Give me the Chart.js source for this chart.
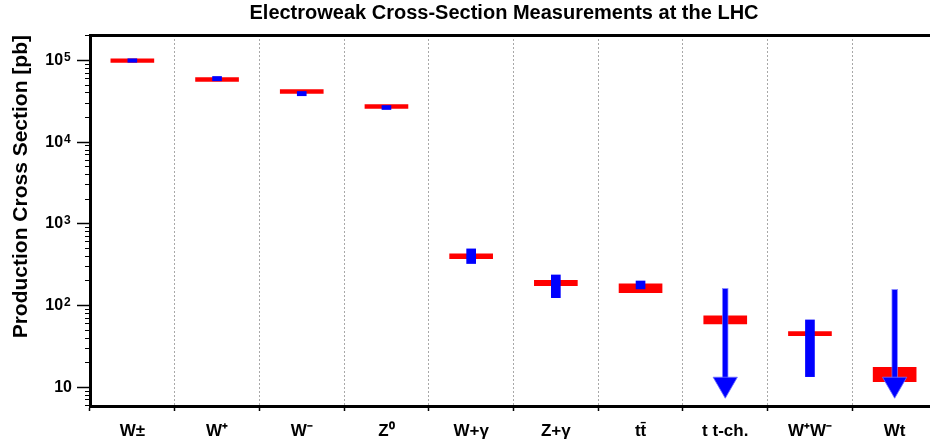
<!DOCTYPE html>
<html>
<head>
<meta charset="utf-8">
<script src="https://cdn.jsdelivr.net/npm/chart.js@4.4.1/dist/chart.umd.min.js"></script>
<style>
  html, body { margin: 0; padding: 0; background: #fff; overflow: hidden; }
  /* wider than the window: the plot runs past the right edge as in the original */
  #wrap { position: relative; width: 952px; height: 440px; }
</style>
</head>
<body>
<div id="wrap"><canvas id="xsecChart"></canvas></div>
<script>
var chartTitle = 'Electroweak Cross-Section Measurements at the LHC';
var yTitle = 'Production Cross Section [pb]';

// processes along the x axis
var processes = ['W\u00B1', 'W\u207A', 'W\u207B', 'Z\u2070', 'W+\u03B3', 'Z+\u03B3', 'tt\u0304', 't t-ch.', 'W\u207AW\u207B', 'Wt'];

// theory prediction band (red), pb
var theoryLow  = [94500, 55300, 39400, 25800, 376, 175, 144, 59.6, 42.9, 11.7];
var theoryHigh = [104900, 61900, 44100, 28900, 429, 204, 184, 74.7, 48.0, 17.6];

// measurement with error (blue), pb
var measLow  = [95000, 56400, 37000, 25100, 327, 125, 160, null, 13.5, null];
var measHigh = [105000, 63700, 41700, 28100, 494, 237, 200, null, 66.7, null];

// upper limits drawn as arrows, pb
var limitTop  = [null, null, null, null, null, null, null, 163, null, 158];
var limitHead = [null, null, null, null, null, null, null, 10.9, null, 10.9];

// y tick labels: mantissa + exponent
var yTickValues = [10, 100, 1000, 10000, 100000];
var yTickBase = ['10', '10', '10', '10', '10'];
var yTickExp = ['', '2', '3', '4', '5'];

var yMin = 5.9, yMax = 205000;
var FONT = '"Liberation Sans", Arial, Helvetica, sans-serif';
var Y_TICK_LEN = 13, Y_TICK_PAD = 5;
var SPACER = '\u2007';

function pairs(lo, hi) {
    return lo.map(function (v, i) {
        return v === null ? null : [v, hi[i]];
    });
}

var minorTicks = [];
for (var d = 1; d <= 100000; d *= 10) {
    for (var m = 2; m <= 9; m++) {
        var v = m * d;
        if (v >= yMin && v <= yMax) minorTicks.push(v);
    }
}

var titlePlugin = {
    id: 'topTitle',
    afterDraw: function (chart) {
        var ctx = chart.ctx;
        ctx.save();
        ctx.font = 'bold 20px ' + FONT;
        ctx.fillStyle = '#000';
        ctx.textAlign = 'center';
        ctx.textBaseline = 'alphabetic';
        ctx.fillText(chartTitle, 504, 18.5);
        ctx.restore();
    }
};

// superscript exponents on the y tick labels
var exponentPlugin = {
    id: 'tickExponents',
    afterDraw: function (chart) {
        var scale = chart.scales.y;
        var ctx = chart.ctx;
        ctx.save();
        ctx.font = 'bold 16px ' + FONT;
        var gap = ctx.measureText(SPACER).width;
        var x = scale.right - Y_TICK_LEN - Y_TICK_PAD - gap + 1;
        ctx.font = 'bold 12px ' + FONT;
        ctx.fillStyle = '#000';
        ctx.textAlign = 'left';
        ctx.textBaseline = 'alphabetic';
        yTickValues.forEach(function (val, i) {
            if (!yTickExp[i]) return;
            ctx.fillText(yTickExp[i], x, scale.getPixelForValue(val) + 0.5);
        });
        ctx.restore();
    }
};

var ctx = document.getElementById('xsecChart').getContext('2d');
var xsecChart = new Chart(ctx, {
    type: 'bar',
    data: {
        labels: processes,
        datasets: [{
            type: 'line',
            label: 'limit head',
            data: limitHead,
            showLine: false,
            pointStyle: 'triangle',
            rotation: 180,
            pointRadius: 14,
            pointHoverRadius: 14,
            backgroundColor: '#0000ff',
            borderColor: 'rgba(110,110,255,0.8)',
            borderWidth: 1,
            xAxisID: 'x',
            yAxisID: 'y',
            order: 0
        }, {
            label: 'limit',
            data: pairs(limitHead, limitTop),
            backgroundColor: '#0000ff',
            borderColor: 'rgba(110,110,255,0.8)',
            borderWidth: 1,
            borderSkipped: false,
            barThickness: 6,
            grouped: false,
            xAxisID: 'x',
            yAxisID: 'y',
            order: 1
        }, {
            label: 'measurement',
            data: pairs(measLow, measHigh),
            backgroundColor: '#0000ff',
            borderWidth: 0,
            barThickness: 9,
            grouped: false,
            xAxisID: 'x',
            yAxisID: 'y',
            order: 2
        }, {
            label: 'theory',
            data: pairs(theoryLow, theoryHigh),
            backgroundColor: '#ff0000',
            borderWidth: 0,
            barThickness: 43,
            grouped: false,
            xAxisID: 'x',
            yAxisID: 'y',
            order: 3
        }]
    },
    options: {
        responsive: true,
        maintainAspectRatio: false,
        animation: false,
        events: [],
        layout: { padding: { top: 35, left: 0, right: 0, bottom: 0 } },
        plugins: {
            legend: { display: false },
            tooltip: { enabled: false },
            title: { display: false }
        },
        scales: {
            x: {
                type: 'category',
                position: 'bottom',
                offset: true,
                grid: {
                    offset: true,
                    color: '#a8a8a8',
                    lineWidth: 1,
                    drawTicks: true,
                    tickLength: 5,
                    tickColor: '#000',
                    tickWidth: 1.5
                },
                border: { display: true, color: '#000', width: 3, dash: [2, 2] },
                ticks: {
                    color: '#000',
                    font: { family: FONT, size: 17, weight: 'bold' },
                    padding: 10,
                    maxRotation: 0,
                    autoSkip: false
                },
                afterFit: function (scale) {
                    scale.height = 34;
                    scale.paddingLeft = 0;
                    scale.paddingRight = 0;
                }
            },
            xTop: {
                type: 'category',
                position: 'top',
                grid: { display: false, drawTicks: false },
                border: { display: true, color: '#000', width: 3 },
                ticks: { display: false },
                afterFit: function (scale) {
                    scale.height = 0;
                    scale.paddingLeft = 0;
                    scale.paddingRight = 0;
                }
            },
            y: {
                type: 'logarithmic',
                position: 'left',
                weight: 1,
                min: yMin,
                max: yMax,
                grid: {
                    drawOnChartArea: false,
                    drawTicks: true,
                    tickLength: Y_TICK_LEN,
                    tickColor: '#000',
                    tickWidth: 1.5
                },
                border: { display: true, color: '#000', width: 3 },
                afterBuildTicks: function (scale) {
                    scale.ticks = yTickValues.map(function (v) { return { value: v }; });
                },
                ticks: {
                    autoSkip: false,
                    color: '#000',
                    padding: Y_TICK_PAD,
                    font: { family: FONT, size: 16, weight: 'bold' },
                    callback: function (value) {
                        var i = yTickValues.indexOf(value);
                        if (i < 0) return '';
                        return yTickExp[i] ? yTickBase[i] + SPACER : yTickBase[i];
                    }
                },
                title: {
                    display: true,
                    text: yTitle,
                    align: 'end',
                    color: '#000',
                    font: { family: FONT, size: 21, weight: 'bold' },
                    padding: { top: 9, bottom: 0 }
                },
                afterFit: function (scale) { scale.width = 90; }
            },
            yMinor: {
                type: 'logarithmic',
                position: 'left',
                weight: 0,
                min: yMin,
                max: yMax,
                grid: {
                    drawOnChartArea: false,
                    drawTicks: true,
                    tickLength: 5,
                    tickColor: '#000',
                    tickWidth: 1
                },
                border: { display: false },
                afterBuildTicks: function (scale) {
                    scale.ticks = minorTicks.map(function (v) { return { value: v }; });
                },
                ticks: { display: false, autoSkip: false },
                afterFit: function (scale) { scale.width = 0; }
            }
        }
    },
    plugins: [titlePlugin, exponentPlugin]
});
</script>
</body>
</html>
